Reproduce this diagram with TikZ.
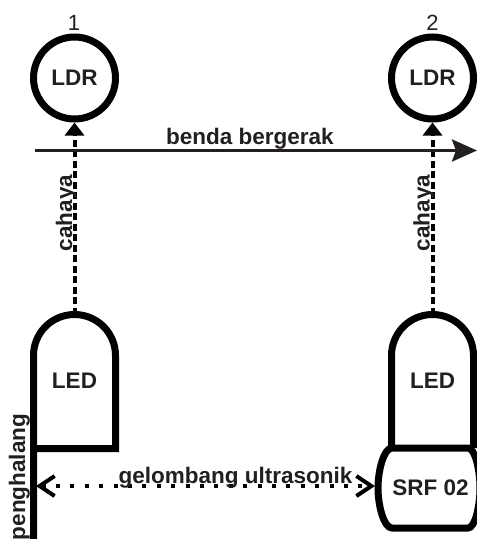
\documentclass[tikz,border=0pt]{standalone}
\usepackage{fontspec}
\setmainfont{Liberation Sans}
\usetikzlibrary{arrows.meta}
\definecolor{inkdark}{HTML}{231F20}
\tikzset{
	ldrlamp/.style={draw=black,circle,line width=7pt,minimum size=82pt,inner sep=0pt},
	ledbody/.style={draw=black,line width=7pt,line join=miter},
	sensorbody/.style={draw=black,line width=7pt},
	lightray/.style={draw=black,line width=4pt,dash pattern=on 7pt off 3.5pt,-{Triangle[length=13pt,width=19pt]}},
	moveline/.style={draw=inkdark,line width=3.6pt,-{Stealth[length=25pt,width=22pt,inset=4pt]}},
	soundline/.style={draw=black,line width=4pt,dash pattern=on 4pt off 10.4pt,
		{Straight Barb[length=15pt,width=20pt,line width=4pt]}-{Straight Barb[length=15pt,width=20pt,line width=4pt]}},
	boldtext/.style={text=inkdark,font=\bfseries\fontsize{22.5}{24}\selectfont,inner sep=0pt},
	numtext/.style={text=inkdark,font=\fontsize{22}{24}\selectfont,inner sep=0pt}
}
\begin{document}
\begin{tikzpicture}[x=1pt,y=-1pt]
	\clip (0,0) rectangle (477,539);
	\node[ldrlamp] (ldra) at (74.5,78) {};
	\node[ldrlamp] (ldrb) at (432.5,78) {};
	\node[boldtext] (ldratext) at (74.5,78) {LDR};
	\node[boldtext] (ldrbtext) at (432.5,78) {LDR};
	\node[numtext] (numa) at (74,23) {1};
	\node[numtext] (numb) at (432.5,23) {2};

	\coordinate (ledatop) at (74.5,314.5);
	\coordinate (ledbtop) at (432.5,314.5);
	\draw[ledbody] (33.5,539) -- (33.5,355.5) arc (180:0:41 and -41) -- (115.5,448.5) -- (33.5,448.5);
	\draw[ledbody] (391.5,448) -- (391.5,355.5) arc (180:0:41 and -41) -- (473.5,448);
	\draw[sensorbody] (392,448) -- (468,448)
		.. controls (475,448) and (480,470) .. (480,488)
		.. controls (480,506) and (475,528) .. (468,528)
		-- (392,528)
		.. controls (384,528) and (378,506) .. (378,488)
		.. controls (378,470) and (384,448) .. (392,448) -- cycle;
	\node[boldtext] (leda) at (74.5,381) {LED};
	\node[boldtext] (ledb) at (432.5,381) {LED};
	\node[boldtext] (srf) at (430.5,488) {SRF 02};

	\draw[lightray] (ledatop) -- (ldra);
	\draw[lightray] (ledbtop) -- (ldrb);

	\coordinate (movestart) at (35,150.5);
	\coordinate (moveend) at (477,150.5);
	\draw[moveline] (movestart) -- (moveend);
	\node[boldtext,anchor=base] (movetext) at (250,144) {benda bergerak};

	\node[boldtext,anchor=base,rotate=90] (cahayaa) at (72,213) {cahaya};
	\node[boldtext,anchor=base,rotate=90] (cahayab) at (429.5,213) {cahaya};
	\node[boldtext,anchor=base,rotate=90] (wall) at (25,477) {penghalang};

	\coordinate (soundleft) at (36,486);
	\coordinate (soundright) at (375,486);
	\draw[soundline] (soundleft) -- (soundright);
	\node[boldtext,anchor=base] (soundtext) at (235.5,483) {gelombang ultrasonik};
\end{tikzpicture}
\end{document}
